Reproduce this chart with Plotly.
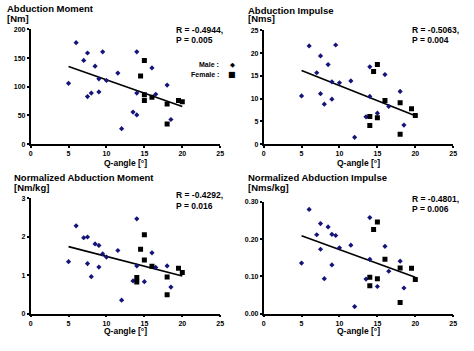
import plotly.graph_objects as go

# ---------------- data ----------------
# Panel 1: Abduction Moment [Nm]
p1_male_q = [5, 6, 7, 7.5, 7.5, 8, 8.5, 9, 9, 9.5, 10, 11.5, 12, 13.5, 14, 14, 14, 16, 16.5, 18, 18.5]
p1_male_v = [106, 177, 146, 159, 83, 89, 136, 114, 91, 161, 111, 124, 27, 56, 161, 89, 51, 133, 87, 103, 43]
p1_fem_q = [14.5, 15, 15, 15, 16, 18, 18, 19.5, 20]
p1_fem_v = [119, 146, 86, 76, 82, 70, 35, 76, 74]

# common male / female Q-angles for panels 2-4
male_q = [5, 6, 7, 7.5, 7.5, 8, 8.5, 9, 9, 9.5, 10, 11.5, 12, 13.5, 14, 14, 15, 16, 16.5, 18, 18.5]
fem_q = [14, 14, 14.5, 15, 15, 16, 18, 18, 19.5, 20]

# Panel 2: Abduction Impulse [Nms]
p2_male_v = [10.6, 21.6, 15.7, 19.4, 11.1, 8.8, 17.5, 13.7, 9.9, 21.8, 13.5, 13.9, 1.5, 6.0, 17.0, 10.5, 6.8, 15.3, 8.3, 11.6, 4.2]
p2_fem_v = [6.1, 4.1, 16.0, 17.5, 5.8, 9.6, 9.1, 2.2, 7.8, 6.3]

# Panel 3: Normalized Abduction Moment [Nm/kg]
p3_male_v = [1.35, 2.28, 1.97, 1.99, 1.30, 0.96, 1.81, 1.77, 1.21, 1.55, 1.47, 1.64, 0.35, 0.85, 2.46, 1.24, 0.83, 1.58, 1.20, 1.24, 0.69]
p3_fem_v = [0.94, 0.82, 1.67, 2.05, 1.39, 1.23, 0.95, 0.49, 1.18, 1.07]

# Panel 4: Normalized Abduction Impulse [Nms/kg]
p4_male_v = [0.136, 0.280, 0.212, 0.242, 0.173, 0.094, 0.233, 0.213, 0.131, 0.210, 0.177, 0.184, 0.019, 0.093, 0.258, 0.146, 0.073, 0.181, 0.114, 0.141, 0.069]
p4_fem_v = [0.098, 0.075, 0.226, 0.246, 0.094, 0.146, 0.123, 0.030, 0.122, 0.092]

# regression line values at its two ends
trend_q = [5, 20]
p1_trend = [135.4, 65.7]
p2_trend = [16.2, 6.25]
p3_trend = [1.74, 0.98]
p4_trend = [0.209, 0.098]

titles = ["Abduction Moment", "Abduction Impulse",
          "Normalized Abduction Moment", "Normalized Abduction Impulse"]
units = ["[Nm]", "[Nms]", "[Nm/kg]", "[Nms/kg]"]
r_texts = ["R = -0.4944,", "R = -0.5063,", "R = -0.4292,", "R = -0.4801,"]
p_texts = ["P = 0.005", "P = 0.004", "P = 0.016", "P = 0.006"]
x_title = "Q-angle [°]"
y_ranges = [[0, 200], [0, 25], [0, 3], [0, 0.30]]
y_dticks = [50, 5, 1, 0.10]
y_formats = ["", "", "", ".2f"]
x_ticks = [0, 5, 10, 15, 20, 25]
legend_labels = ["Male :", "Female :"]

panels = [
    (p1_male_q, p1_male_v, p1_fem_q, p1_fem_v, p1_trend),
    (male_q, p2_male_v, fem_q, p2_fem_v, p2_trend),
    (male_q, p3_male_v, fem_q, p3_fem_v, p3_trend),
    (male_q, p4_male_v, fem_q, p4_fem_v, p4_trend),
]

W, H = 474, 351
FONT = "Liberation Sans, Arial, sans-serif"

# axis domains in pixels (left, right, top, bottom)
px_dom = [
    (29, 221, 26, 143),
    (265, 457, 27, 143),
    (29, 221, 198, 316),
    (265, 457, 202, 316),
]

fig = go.Figure()
layout = {}
for i, (mq, mv, fq, fv, tr) in enumerate(panels):
    n = "" if i == 0 else str(i + 1)
    xa, ya = "x" + n, "y" + n
    fig.add_trace(go.Scatter(x=trend_q, y=tr, mode="lines", xaxis=xa, yaxis=ya,
                             line=dict(color="black", width=1.6), showlegend=False, hoverinfo="skip"))
    fig.add_trace(go.Scatter(x=mq, y=mv, mode="markers", xaxis=xa, yaxis=ya,
                             marker=dict(symbol="diamond", size=4, color="#14147a"),
                             showlegend=False))
    fig.add_trace(go.Scatter(x=fq, y=fv, mode="markers", xaxis=xa, yaxis=ya,
                             marker=dict(symbol="square", size=5, color="black"),
                             showlegend=False))
    l, r, t, b = px_dom[i]
    layout["xaxis" + n] = dict(
        domain=[l / W, r / W], range=[0, 25], tickvals=x_ticks, anchor=ya,
        showline=True, linecolor="black", linewidth=1.6, ticks="outside", ticklen=2,
        tickwidth=1.5, tickcolor="black", showgrid=False, zeroline=False,
        tickfont=dict(family=FONT, size=7, color="black", weight="bold"),
    )
    layout["yaxis" + n] = dict(
        domain=[1 - b / H, 1 - t / H], range=y_ranges[i], dtick=y_dticks[i], tick0=0,
        tickformat=y_formats[i], anchor=xa,
        showline=True, linecolor="black", linewidth=1.6, ticks="outside", ticklen=2,
        tickwidth=1.5, tickcolor="black", showgrid=False, zeroline=False,
        tickfont=dict(family=FONT, size=7, color="black", weight="bold"),
    )

annotations = []


def add_text(text, x, y, size, anchor="left", family=FONT, bold=True):
    annotations.append(dict(text=text, x=x / W, y=1 - y / H, xref="paper", yref="paper",
                            xanchor=anchor, yanchor="middle", showarrow=False,
                            font=dict(family=family, size=size, color="black",
                                      weight="bold" if bold else "normal")))


title_pos = [(3, 5, 14.5), (247, 6.5, 15), (10, 177.5, 187), (247, 177.5, 187)]
rp_pos = [(174, 27, 37), (413, 26.5, 36.5), (174, 195, 206), (413, 199, 209.5)]
xt_pos = [(125, 162), (361, 162), (125, 334), (361, 334)]
for i in range(4):
    tx, ty1, ty2 = title_pos[i]
    add_text(titles[i], tx, ty1, 9.5)
    add_text(units[i], tx, ty2, 9.5)
    rx, ry1, ry2 = rp_pos[i]
    add_text(r_texts[i], rx, ry1, 8.5)
    add_text(p_texts[i], rx, ry2, 8.5)
    xx, xy = xt_pos[i]
    add_text(x_title, xx, xy, 8.5, anchor="center")

# legend (panel 1)
add_text(legend_labels[0], 222, 62, 7, anchor="right")
add_text(legend_labels[1], 222, 72, 7, anchor="right")
add_text("◆", 233, 62, 6.5, anchor="center", family="DejaVu Sans", bold=False)
add_text("■", 233, 72, 8, anchor="center", family="DejaVu Sans", bold=False)

fig.update_layout(
    width=W, height=H, margin=dict(l=0, r=0, t=0, b=0),
    paper_bgcolor="white", plot_bgcolor="white",
    annotations=annotations, showlegend=False, **layout,
)
fig.write_html("out.html")
